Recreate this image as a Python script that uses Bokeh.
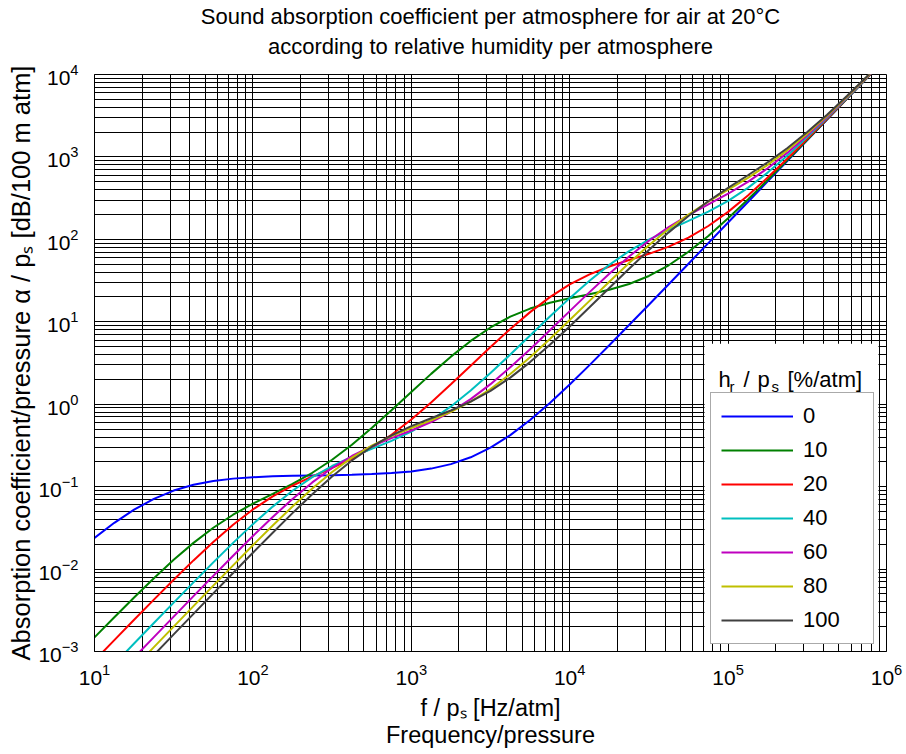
from bokeh.plotting import figure
from bokeh.models import Label, Legend, LegendItem, BoxAnnotation, FixedTicker, LogTickFormatter, Title
from bokeh.embed import file_html
from bokeh.resources import INLINE

# frequency per atmosphere [Hz/atm]
freq = [10, 13.34, 17.78, 23.71, 31.62, 42.17, 56.23, 74.99,
        100, 133.4, 177.8, 237.1, 316.2, 421.7, 562.3, 749.9,
        1000, 1334, 1778, 2371, 3162, 4217, 5623, 7499,
        10000, 13340, 17780, 23710, 31620, 42170, 56230, 74990,
        100000, 133400, 177800, 237100, 316200, 421700, 562300, 749900,
        1000000]

# absorption per atmosphere [dB/100 m atm], one list per relative humidity
alpha_h0 = [0.02393, 0.03641, 0.05258, 0.07115, 0.08961, 0.1054, 0.1172, 0.1251,
            0.1302, 0.1333, 0.1353, 0.1367, 0.1379, 0.1395, 0.1419, 0.1459,
            0.1530, 0.1655, 0.1876, 0.2269, 0.2969, 0.4213, 0.6425, 1.036,
            1.735, 2.979, 5.191, 9.124, 16.12, 28.56, 50.68, 90.01,
            159.9, 284.3, 505.5, 898.8, 1598, 2842, 5054, 8987, 15980]
alpha_h10 = [0.001482, 0.002601, 0.004526, 0.007750, 0.01294, 0.02079, 0.03174, 0.04563,
             0.06215, 0.08194, 0.1081, 0.1473, 0.2118, 0.3223, 0.5142, 0.8457,
             1.408, 2.334, 3.778, 5.859, 8.536, 11.54, 14.47, 17.05,
             19.32, 21.58, 24.42, 28.73, 35.94, 48.50, 70.69, 110.1,
             180.0, 304.4, 525.6, 918.9, 1618, 2862, 5074, 9008, 16000]
alpha_h20 = [0.0007764, 0.001373, 0.002425, 0.004261, 0.007424, 0.01274, 0.02135, 0.03448,
             0.05288, 0.07613, 0.1029, 0.1328, 0.1685, 0.2178, 0.2952, 0.4260,
             0.6532, 1.051, 1.744, 2.935, 4.939, 8.178, 13.10, 19.93,
             28.37, 37.59, 46.81, 56.10, 66.75, 81.51, 105.0, 145.2,
             215.6, 340.3, 561.6, 955.0, 1655, 2899, 5110, 9044, 16040]
alpha_h40 = [0.0003963, 0.0007040, 0.001250, 0.002215, 0.003916, 0.006895, 0.01205, 0.02078,
             0.03508, 0.05727, 0.08907, 0.1302, 0.1779, 0.2296, 0.2868, 0.3589,
             0.4653, 0.6398, 0.9403, 1.467, 2.392, 4.010, 6.810, 11.56,
             19.36, 31.51, 49.05, 72.05, 99.44, 130.5, 167.2, 216.8,
             293.3, 421.7, 645.3, 1040, 1740, 2985, 5197, 9130, 16130]
alpha_h60 = [0.0002666, 0.0004738, 0.0008419, 0.001495, 0.002651, 0.004693, 0.008277, 0.01451,
             0.02516, 0.04286, 0.07094, 0.1125, 0.1683, 0.2354, 0.3089, 0.3876,
             0.4802, 0.6081, 0.8102, 1.153, 1.751, 2.804, 4.655, 7.889,
             13.47, 22.90, 38.29, 62.07, 96.20, 141.2, 196.7, 265.4,
             357.6, 497.2, 728.1, 1127, 1830, 3076, 5289, 9223, 16220]
alpha_h80 = [0.0002010, 0.0003574, 0.0006352, 0.001129, 0.002004, 0.003554, 0.006290, 0.01109,
             0.01944, 0.03370, 0.05739, 0.09492, 0.1503, 0.2246, 0.3136, 0.4108,
             0.5149, 0.6373, 0.8065, 1.074, 1.529, 2.322, 3.719, 6.178,
             10.49, 17.95, 30.66, 51.63, 84.66, 133.5, 200.3, 287.0,
             399.6, 557.2, 801.5, 1210, 1918, 3167, 5382, 9317, 16310]
alpha_h100 = [0.0001615, 0.0002870, 0.0005103, 0.0009070, 0.001611, 0.002860, 0.005071, 0.008969,
              0.01580, 0.02763, 0.04773, 0.08081, 0.1325, 0.2073, 0.3049, 0.4190,
              0.5421, 0.6757, 0.8388, 1.073, 1.452, 2.103, 3.242, 5.251,
              8.788, 14.98, 25.72, 43.98, 74.12, 121.6, 192.1, 290.1,
              421.0, 599.4, 862.1, 1284, 2002, 3257, 5475, 9412, 16410]

humidity_labels = ["0", "10", "20", "40", "60", "80", "100"]
series = [alpha_h0, alpha_h10, alpha_h20, alpha_h40, alpha_h60, alpha_h80, alpha_h100]
colors = ["#0000ff", "#008000", "#ff0000", "#00bfbf", "#bf00bf", "#bfbf00", "#404040"]

x_decades = [1e1, 1e2, 1e3, 1e4, 1e5, 1e6]
y_decades = [1e-3, 1e-2, 1e-1, 1e0, 1e1, 1e2, 1e3, 1e4]

FONT = "Liberation Sans"

p = figure(width=906, height=754, x_axis_type="log", y_axis_type="log",
           x_range=(10, 1e6), y_range=(1e-3, 1e4),
           output_backend="svg", toolbar_location=None,
           min_border_left=94, min_border_right=20, min_border_top=73, min_border_bottom=103)
p.background_fill_color = "white"
p.border_fill_color = "white"
p.outline_line_color = "black"
p.outline_line_width = 1

# two-line title; Titles added to "above" stack outward from the frame in order of addition
p.title.text = "Sound absorption coefficient per atmosphere for air at 20\u00b0C"
p.title.align = "center"
p.title.text_font = FONT
p.title.text_font_size = "22px"
p.title.text_font_style = "normal"
p.title.text_color = "black"
p.title.standoff = 3
# small empty spacer between the title block and the frame
p.add_layout(Title(text=" ", text_font_size="1px", standoff=12), "above")
p.add_layout(Title(text="according to relative humidity per atmosphere",
                   align="center", text_font=FONT, text_font_size="22px",
                   text_font_style="normal", text_color="black", standoff=2), "above")

x_minor = [m * d for d in x_decades[:-1] for m in range(2, 10)]
y_minor = [m * d for d in y_decades[:-1] for m in range(2, 10)]
p.xaxis.ticker = FixedTicker(ticks=x_decades, minor_ticks=x_minor)
p.yaxis.ticker = FixedTicker(ticks=y_decades, minor_ticks=y_minor)
p.xaxis.formatter = LogTickFormatter()
p.yaxis.formatter = LogTickFormatter()

for ax in (p.xaxis, p.yaxis):
    ax.major_label_text_font = FONT
    ax.major_label_text_font_size = "21px"
    ax.major_label_text_color = "black"
    ax.axis_line_color = "black"
    ax.major_tick_out = 0
    ax.major_tick_in = 0
    ax.minor_tick_out = 0
    ax.minor_tick_in = 0
    ax.axis_label_text_font = FONT
    ax.axis_label_text_font_style = "normal"
    ax.axis_label_text_color = "black"
p.xaxis.major_label_standoff = 12
p.yaxis.major_label_standoff = 16
p.xaxis.axis_label = "f / p\u209b [Hz/atm]\nFrequency/pressure"
p.xaxis.axis_label_text_font_size = "23.5px"
p.xaxis.axis_label_text_line_height = 1.05
p.xaxis.axis_label_standoff = 7
p.yaxis.axis_label = "Absorption coefficient/pressure \u03b1 / p\u209b [dB/100 m atm]"
p.yaxis.axis_label_text_font_size = "25.5px"
p.yaxis.axis_label_standoff = 0

for g in (p.xgrid, p.ygrid):
    g.grid_line_color = "black"
    g.grid_line_alpha = 1
    g.grid_line_width = 1
    g.minor_grid_line_color = "black"
    g.minor_grid_line_alpha = 1
    g.minor_grid_line_width = 1

renderers = []
for vals, col in zip(series, colors):
    r = p.line(freq, vals, line_color=col, line_width=2)
    renderers.append(r)

# white area behind the legend and its title (covers the grid only)
p.add_layout(BoxAnnotation(left=7.1e4, right=8.9e5, bottom=1.3e-3, top=5.4,
                           fill_color="white", fill_alpha=1, line_alpha=0, level="underlay"))

legend = Legend(items=[LegendItem(label=lab, renderers=[r]) for lab, r in zip(humidity_labels, renderers)],
                location=(616, 7), orientation="vertical",
                label_text_font=FONT, label_text_font_size="22px", label_text_color="black",
                glyph_width=72, glyph_height=26, label_height=26, label_width=60,
                label_standoff=10, spacing=8, padding=10, margin=0,
                border_line_color="#555555", border_line_width=1.5,
                background_fill_color="white", background_fill_alpha=1)
p.add_layout(legend)

def lab(text, dx, dy, size="22px"):
    p.add_layout(Label(x=10, y=1e-3, x_offset=dx, y_offset=dy, text=text,
                       text_font=FONT, text_font_size=size, text_color="black",
                       text_align="left", text_baseline="alphabetic", level="overlay"))

# legend title h_r / p_s [%/atm] (anchor: frame bottom-left corner)
lab("h", 624, 272)
lab("r", 635, 265, size="15px")
lab("/", 649, 272)
lab("p", 663, 272)
lab("s", 677, 265, size="15px")
lab("[%/atm]", 693, 272)

open("out.html", "w").write(file_html(p, INLINE))
